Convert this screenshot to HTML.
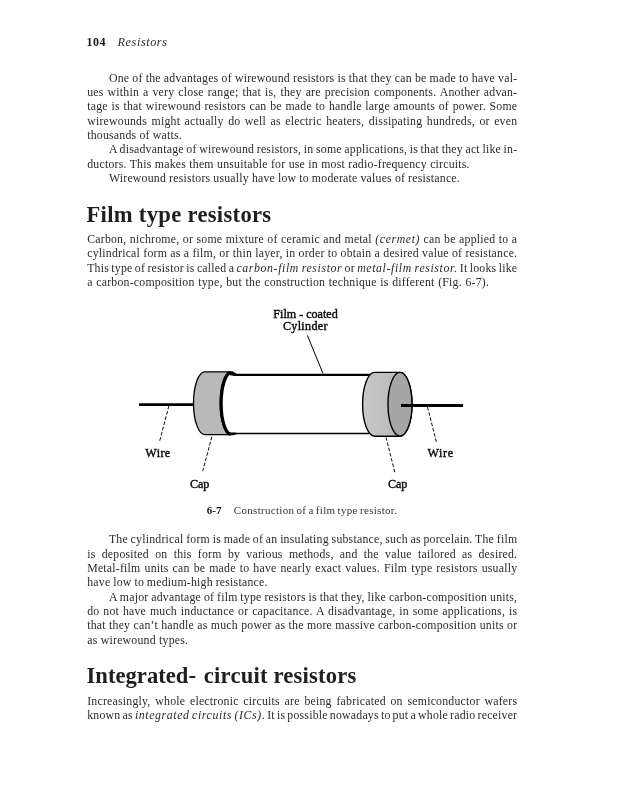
<!DOCTYPE html>
<html><head><meta charset="utf-8"><title>Resistors</title>
<style>
html,body{margin:0;padding:0;background:#fff;}
body{width:627px;height:800px;position:relative;overflow:hidden;will-change:transform;font-family:"Liberation Serif",serif;color:#2b2b2b;}
.l{position:absolute;white-space:nowrap;font-size:11.8px;line-height:14px;letter-spacing:0.220px;}
.l i{letter-spacing:0.620px;}
.h{position:absolute;white-space:nowrap;font-weight:bold;font-size:22.6px;line-height:26px;color:#1f1f1f;}
.hd{position:absolute;white-space:nowrap;font-size:11.5px;line-height:14px;}
.cap{position:absolute;white-space:nowrap;font-size:11px;line-height:12px;color:#333;}
svg{position:absolute;left:0;top:0;}
svg text{font-family:"Liberation Serif",serif;font-size:12.1px;fill:#0a0a0a;stroke:#0a0a0a;stroke-width:0.4px;}
</style></head><body>
<div class="hd" style="left:86.6px;top:34.75px;font-size:12px;letter-spacing:0.45px;color:#1a1a1a;"><b>104</b></div>
<div class="hd" id="rh" style="left:117.6px;top:34.68px;font-size:12.2px;letter-spacing:0.58px;"><i>Resistors</i></div>
<div class="l" style="left:108.90px;top:70.62px;word-spacing:-0.074px;">One of the advantages of wirewound resistors is that they can be made to have val-</div>
<div class="l" style="left:87.20px;top:84.97px;word-spacing:0.826px;">ues within a very close range; that is, they are precision components. Another advan-</div>
<div class="l" style="left:87.20px;top:99.32px;word-spacing:0.532px;">tage is that wirewound resistors can be made to handle large amounts of power. Some</div>
<div class="l" style="left:87.20px;top:113.67px;word-spacing:1.294px;">wirewounds might actually do well as electric heaters, dissipating hundreds, or even</div>
<div class="l" style="left:87.20px;top:128.02px;word-spacing:-0.073px;">thousands of watts.</div>
<div class="l" style="left:108.90px;top:142.37px;word-spacing:-0.610px;">A disadvantage of wirewound resistors, in some applications, is that they act like in-</div>
<div class="l" style="left:87.20px;top:156.72px;word-spacing:0.091px;">ductors. This makes them unsuitable for use in most radio-frequency circuits.</div>
<div class="l" style="left:108.90px;top:171.07px;word-spacing:-0.212px;">Wirewound resistors usually have low to moderate values of resistance.</div>
<div class="l" style="left:87.20px;top:232.02px;word-spacing:0.269px;">Carbon, nichrome, or some mixture of ceramic and metal <i>(cermet)</i> can be applied to a</div>
<div class="l" style="left:87.20px;top:246.37px;word-spacing:0.033px;">cylindrical form as a film, or thin layer, in order to obtain a desired value of resistance.</div>
<div class="l" style="left:87.20px;top:260.72px;word-spacing:-0.850px;">This type of resistor is called a <i>carbon-film resistor</i> or <i>metal-film resistor.</i> It looks like</div>
<div class="l" style="left:87.20px;top:275.07px;word-spacing:0.448px;">a carbon-composition type, but the construction technique is different (Fig. 6-7).</div>
<div class="l" style="left:108.90px;top:532.22px;word-spacing:-0.457px;">The cylindrical form is made of an insulating substance, such as porcelain. The film</div>
<div class="l" style="left:87.20px;top:546.57px;word-spacing:3.076px;">is deposited on this form by various methods, and the value tailored as desired.</div>
<div class="l" style="left:87.20px;top:560.92px;word-spacing:0.852px;">Metal-film units can be made to have nearly exact values. Film type resistors usually</div>
<div class="l" style="left:87.20px;top:575.27px;word-spacing:-0.317px;">have low to medium-high resistance.</div>
<div class="l" style="left:108.90px;top:589.62px;word-spacing:-0.334px;">A major advantage of film type resistors is that they, like carbon-composition units,</div>
<div class="l" style="left:87.20px;top:603.97px;word-spacing:0.696px;">do not have much inductance or capacitance. A disadvantage, in some applications, is</div>
<div class="l" style="left:87.20px;top:618.32px;word-spacing:0.103px;">that they can&rsquo;t handle as much power as the more massive carbon-composition units or</div>
<div class="l" style="left:87.20px;top:632.67px;word-spacing:0.132px;">as wirewound types.</div>
<div class="l" style="left:87.20px;top:693.52px;word-spacing:1.564px;">Increasingly, whole electronic circuits are being fabricated on semiconductor wafers</div>
<div class="l" style="left:87.20px;top:707.87px;word-spacing:-1.059px;">known as <i>integrated circuits (ICs)</i>. It is possible nowadays to put a whole radio receiver</div>
<div class="h" id="h1" style="left:86.5px;top:201.67px;letter-spacing:0.31px;">Film type resistors</div>
<div class="h" id="h2" style="left:86.5px;top:662.97px;letter-spacing:0.21px;"><span style="letter-spacing:0.03px;margin-right:2px;">Integrated-</span> circuit resistors</div>
<svg width="627" height="800" viewBox="0 0 627 800">
<defs><linearGradient id="g1" x1="0" y1="0" x2="1" y2="0"><stop offset="0" stop-color="#c9c9c9"/><stop offset="0.55" stop-color="#bdbdbd"/><stop offset="1" stop-color="#b2b2b2"/></linearGradient></defs>
<!-- left wire -->
<line x1="139" y1="404.6" x2="194" y2="404.6" stroke="#000" stroke-width="2.9"/>
<!-- cylinder body -->
<line x1="233" y1="374.9" x2="371.5" y2="374.9" stroke="#000" stroke-width="2.1"/>
<line x1="231" y1="433.5" x2="369" y2="433.5" stroke="#000" stroke-width="1.4"/>
<!-- left cap -->
<path d="M204.8 371.8 L230.3 371.8 A10.2 31.4 0 0 0 230.3 434.6 L204.8 434.6 A11.3 31.4 0 0 1 204.8 371.8 Z" fill="#b9b9b9" stroke="#000" stroke-width="1.3" stroke-linejoin="round"/>
<path d="M230.6 372.7 A10.2 30.9 0 0 0 230.6 434.3" fill="none" stroke="#000" stroke-width="3"/>
<path d="M228.5 371.2 L232.5 371.2 L237 373.9 L237 375.9 L230 375.2 Z" fill="#000"/>
<path d="M228 435.3 L233 435.3 L236.5 434.2 L236.5 432.8 L229.5 432.6 Z" fill="#000"/>
<!-- right cap -->
<path d="M374.6 372.4 L400 372.4 A12 31.9 0 0 1 400 436.2 L374.6 436.2 A12 31.9 0 0 1 374.6 372.4 Z" fill="url(#g1)" stroke="#000" stroke-width="1.4" stroke-linejoin="round"/>
<ellipse cx="400" cy="404.3" rx="12" ry="31.9" fill="#a6a6a6" stroke="#000" stroke-width="1.4"/>
<line x1="401" y1="405.5" x2="463.1" y2="405.5" stroke="#000" stroke-width="2.9"/>
<!-- pointers -->
<line x1="307.4" y1="335.4" x2="323" y2="373.5" stroke="#000" stroke-width="1"/>
<line x1="168.9" y1="405.9" x2="159.3" y2="442.4" stroke="#000" stroke-width="0.95" stroke-dasharray="3.6 1.8"/>
<line x1="211.9" y1="436.7" x2="202.7" y2="471.1" stroke="#000" stroke-width="0.95" stroke-dasharray="3.6 1.8"/>
<line x1="386" y1="437.3" x2="395" y2="473" stroke="#000" stroke-width="0.95" stroke-dasharray="3.6 1.8"/>
<line x1="427.5" y1="407" x2="436.5" y2="442.4" stroke="#000" stroke-width="0.95" stroke-dasharray="3.6 1.8"/>
<!-- labels -->
<text x="273.3" y="318.3" textLength="64.4" lengthAdjust="spacing">Film - coated</text>
<text x="282.9" y="329.9" textLength="44.6" lengthAdjust="spacing">Cylinder</text>
<text x="145.3" y="456.7" textLength="24.9" lengthAdjust="spacing">Wire</text>
<text x="189.9" y="487.9" textLength="19.5" lengthAdjust="spacing">Cap</text>
<text x="387.9" y="488.2" textLength="19.5" lengthAdjust="spacing">Cap</text>
<text x="427.5" y="457.2" textLength="25.5" lengthAdjust="spacing">Wire</text>
</svg>

<div class="cap" id="cap1" style="left:206.7px;top:503.99px;letter-spacing:0.1px;color:#111;"><b>6-7</b></div>
<div class="cap" id="cap2" style="left:233.8px;top:503.99px;letter-spacing:0.31px;word-spacing:-0.88px;">Construction of a film type resistor.</div>
</body></html>
